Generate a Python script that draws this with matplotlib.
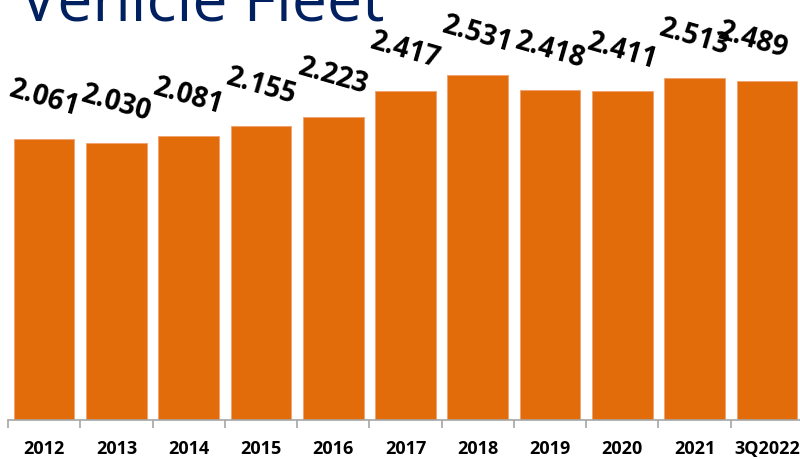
import matplotlib.pyplot as plt
import numpy as np

years = ['2012', '2013', '2014', '2015', '2016', '2017', '2018', '2019', '2020', '2021', '3Q2022']
fleet = [2.061, 2.030, 2.081, 2.155, 2.223, 2.417, 2.531, 2.418, 2.411, 2.513, 2.489]
labels = ['2.061', '2.030', '2.081', '2.155', '2.223', '2.417', '2.531', '2.418', '2.411', '2.513', '2.489']

fig = plt.figure(figsize=(8, 4.6), dpi=100)
ax = fig.add_axes([8 / 800, 39 / 460, 795 / 800, 421 / 460])

x = np.arange(len(years))
ax.bar(x, fleet, width=0.84, color='#E36C0A', edgecolor='#F0A070', linewidth=0.6)

for i, (xi, v, lab) in enumerate(zip(x, fleet, labels)):
    dx = -14 if i == len(x) - 1 else 0  # keep last label inside the figure
    ax.annotate(lab, (xi, v), xytext=(dx, 41), textcoords='offset pixels',
                ha='center', va='center', rotation=-16, rotation_mode='anchor',
                fontsize=20, fontweight='bold', family='Open Sans', color='black')

ax.set_xlim(-0.5, len(years) - 0.5)
ax.set_ylim(0, 3.089)
ax.set_yticks([])
for s in ['top', 'right', 'left']:
    ax.spines[s].set_visible(False)
ax.spines['bottom'].set_color('#A6A6A6')
ax.spines['bottom'].set_linewidth(1.2)

# boundary ticks between categories, labels centred under bars
ax.set_xticks(np.arange(len(years) + 1) - 0.5, minor=False)
ax.set_xticklabels([])
ax.tick_params(axis='x', which='major', length=6, color='#A6A6A6', width=1.2)
ax.set_xticks(x, minor=True)
ax.set_xticklabels(years, minor=True, fontsize=13, fontweight='bold', family='Open Sans')
ax.tick_params(axis='x', which='minor', length=0, pad=14)

fig.text(20 / 800, 1 - 22 / 460, 'Vehicle Fleet', fontsize=45, color='#002060',
         family='Open Sans', ha='left', va='baseline')

fig.savefig('out.png', dpi=100)
